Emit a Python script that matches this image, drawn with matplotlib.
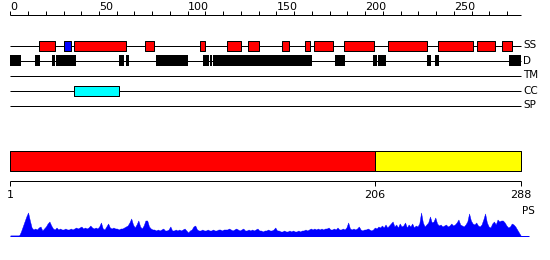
import matplotlib.pyplot as plt

# protein length and top ruler labels
seq_len = 288
ruler_labels = [0, 50, 100, 150, 200, 250]
track_names = ["SS", "D", "TM", "CC", "SP"]

# feature segments (start, end) along the sequence
helix = [(16, 25), (36, 65), (76, 81), (107, 110), (122, 130), (134, 140),
         (153, 157), (166, 169), (171, 182), (188, 205), (213, 235),
         (241, 261), (263, 273), (277, 283)]
strand = [(30, 34)]
disorder = [(0, 6), (14, 17), (23.5, 25), (26, 37), (61, 64), (65, 67),
            (82, 100), (108.6, 112), (112.7, 113.5), (114.5, 170),
            (183, 188.5), (204.5, 206.5), (207.3, 211.6), (235, 237),
            (239.4, 241.7), (281.3, 288)]
coiled = [(36, 61)]

# domain boundaries on the lower bar
domain_edges = [1, 206, 288]
domain_colors = ["#ff0000", "#ffff00"]

# per-residue PS profile (residues 1..288)
ps_profile = [
    0, 0, 0, 0, 0, 0, 4, 9, 14, 19, 23, 15, 8, 6, 7, 6, 8, 9, 5, 7, 9, 12, 14, 10,
    7, 6, 8, 6, 7, 6, 6, 7, 6, 6, 7, 6, 7, 8, 7, 8, 9, 7, 8, 7, 8, 10, 8, 7,
    8, 7, 9, 13, 7, 6, 9, 12, 8, 7, 8, 7, 7, 6, 7, 7, 8, 9, 10, 13, 17, 11,
    8, 11, 15, 9, 7, 10, 15, 15, 9, 7, 6, 6, 5, 6, 5, 6, 7, 5, 5, 6, 9, 5,
    5, 6, 5, 6, 5, 6, 7, 5, 3, 5, 6, 9, 10, 6, 5, 5, 6, 5, 5, 6, 5, 5,
    6, 5, 5, 6, 6, 5, 6, 6, 6, 7, 6, 5, 6, 7, 6, 5, 6, 7, 5, 5, 6, 5,
    6, 5, 6, 7, 5, 5, 4, 5, 5, 6, 5, 5, 6, 8, 5, 5, 4, 4, 5, 4, 4, 5,
    4, 5, 4, 4, 5, 4, 5, 5, 6, 5, 6, 7, 6, 7, 6, 7, 6, 7, 6, 7, 7, 8,
    6, 6, 7, 6, 8, 6, 6, 7, 6, 8, 13, 7, 6, 7, 6, 7, 9, 6, 5, 6, 6, 7,
    6, 5, 6, 8, 7, 9, 8, 10, 8, 11, 8, 10, 12, 14, 9, 11, 8, 12, 9, 10, 13, 8,
    11, 9, 12, 8, 10, 9, 12, 23, 13, 9, 11, 13, 19, 13, 14, 18, 12, 10, 11, 9,
    10, 11, 9, 10, 12, 10, 11, 13, 16, 11, 10, 9, 11, 14, 22, 15, 12, 11, 13, 10,
    9, 11, 16, 22, 13, 9, 8, 12, 14, 11, 16, 14, 15, 15, 13, 10, 8, 9, 12, 11,
    9, 6, 3, 0,
]

px = 0.72  # one pixel line in points

fig = plt.figure(figsize=(5.5, 2.6), dpi=100)

# upper panel: tracks on the 0..288 ruler
ax = fig.add_axes([0, 0, 1, 1])
ax.set_xlim(-5.81, 304.2)
ax.set_ylim(260, 0)
ax.axis("off")

ax.hlines(14.5, 0, seq_len, color="black", lw=px)
ax.vlines(range(0, seq_len + 1, 10), 11, 14.5, color="black", lw=px)
for t in ruler_labels:
    ax.text(t, 10.5, str(t), ha="left", va="baseline", fontsize=8)

rows = [45.5, 60.5, 75.5, 90.5, 105.5]
for name, y in zip(track_names, rows):
    ax.hlines(y, 0, seq_len, color="black", lw=px, zorder=1)
    ax.text(289, y, name, ha="left", va="center", fontsize=7.5)

ax.broken_barh([(s, e - s) for s, e in helix], (40.5, 10),
               facecolors="#ff0000", edgecolor="black", lw=px, zorder=2)
ax.broken_barh([(s, e - s) for s, e in strand], (40.5, 10),
               facecolors="#0000ff", edgecolor="black", lw=px, zorder=2)
ax.broken_barh([(s, e - s) for s, e in disorder], (55, 11),
               facecolors="black", edgecolor="none", zorder=2)
ax.broken_barh([(s, e - s) for s, e in coiled], (85.5, 10),
               facecolors="#00ffff", edgecolor="black", lw=px, zorder=2)

# lower panel: domains, ruler 1..288 and PS profile
ax2 = fig.add_axes([0, 0, 1, 1])
ax2.set_xlim(-4.79, 304.5)
ax2.set_ylim(260, 0)
ax2.axis("off")

for (s, e), c in zip(zip(domain_edges[:-1], domain_edges[1:]), domain_colors):
    ax2.broken_barh([(s, e - s)], (150.5, 20), facecolors=c,
                    edgecolor="black", lw=px)

ax2.hlines(180.5, domain_edges[0], domain_edges[-1], color="black", lw=px)
ax2.vlines(domain_edges, 180.5, 185.5, color="black", lw=px)
for t in domain_edges:
    ax2.text(t, 190, str(t), ha="center", va="top", fontsize=8)
ax2.text(288.6, 211, "PS", ha="left", va="center", fontsize=7.5)

base = 235.5
res = list(range(1, seq_len + 1))
ax2.fill_between(res, base, [base - v for v in ps_profile],
                 color="#0000ff", lw=0.3)
ax2.hlines(base, 1, 292.7, color="#0000ff", lw=px)

fig.savefig("out.png", dpi=100)
